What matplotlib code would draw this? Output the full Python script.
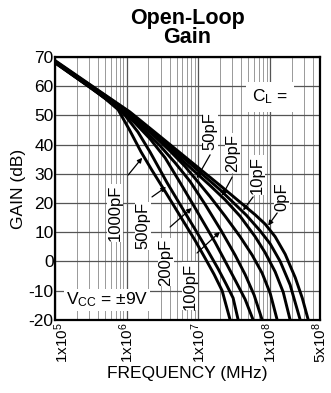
import matplotlib
matplotlib.use("Agg")
import matplotlib.pyplot as plt
from matplotlib.ticker import FixedLocator, NullFormatter
from matplotlib.transforms import ScaledTranslation

plt.rcParams["font.family"] = ["Liberation Sans", "DejaVu Sans"]
plt.rcParams["mathtext.fontset"] = "custom"
plt.rcParams["mathtext.rm"] = "Liberation Sans"
plt.rcParams["mathtext.it"] = "Liberation Sans"

# open-loop gain curves (freq in Hz, gain in dB)
f_0pF = [1e5, 4.25e5, 1.11e6, 2.93e6, 7.68e6, 2.02e7, 3.83e7, 6.21e7, 8.57e7,
         1.18e8, 1.63e8, 2.25e8, 2.82e8, 3.42e8]
g_0pF = [68.8, 58.2, 51.2, 42.8, 34.4, 26, 20.3, 16, 12.8, 8.5, 2.5, -5.5, -12.5, -20]
f_10pF = [1e5, 4.25e5, 1.11e6, 2.93e6, 7.68e6, 2.02e7, 4.66e7, 7.29e7, 1.01e8,
          1.39e8, 1.91e8, 2.64e8]
g_10pF = [68.6, 58.0, 50.9, 42.2, 33.5, 24.5, 15.9, 10.5, 6, 0, -8, -20]
f_20pF = [1e5, 4.25e5, 1.11e6, 2.93e6, 7.68e6, 1.46e7, 2.37e7, 3.83e7, 6.21e7,
          8.57e7, 1.18e8, 1.53e8, 1.91e8]
g_20pF = [68.5, 57.8, 50.6, 41.6, 32.2, 26, 21.1, 15.5, 8.5, 3, -3.5, -10.5, -20]
f_50pF = [1e5, 4.25e5, 1.11e6, 2.12e6, 4.04e6, 6.55e6, 9.93e6, 1.46e7, 2.37e7,
          3.83e7, 5.64e7, 7.78e7, 1.01e8, 1.26e8]
g_50pF = [68.4, 57.6, 50.2, 44.3, 37.8, 32.5, 27.2, 22.2, 15.5, 8.5, 2.2, -4, -11, -20]
f_100pF = [1e5, 4.25e5, 9.51e5, 1.81e6, 2.93e6, 4.74e6, 7.68e6, 1.24e7, 2.08e7,
           3.26e7, 4.51e7, 6.01e7, 7.78e7]
g_100pF = [68.3, 57.4, 51.0, 44.8, 39.6, 33.8, 27.4, 19.6, 10.6, 2.2, -4.5, -11.5, -20]
f_200pF = [1e5, 4.25e5, 8.09e5, 1.31e6, 2.12e6, 3.44e6, 5.57e6, 8.45e6, 1.24e7,
           1.72e7, 2.44e7, 3.37e7, 4.51e7, 5.82e7]
g_200pF = [68.2, 57.2, 52.0, 47.4, 42.0, 35.5, 27, 19.5, 12.5, 6.5, -0.5, -7, -13, -20]
f_500pF = [1e5, 3.62e5, 6.25e5, 9.51e5, 1.44e6, 2.12e6, 3.66e6, 5.57e6, 9.02e6,
           1.37e7, 1.89e7, 2.44e7, 3.06e7, 3.60e7]
g_500pF = [68.1, 58.5, 54.2, 50.0, 44.3, 37.5, 27, 19.5, 11.0, 3.5, -2.5, -7.7, -12.5, -20]
f_1000pF = [1e5, 3.08e5, 5.0e5, 7.59e5, 1.11e6, 1.59e6, 2.26e6, 3.44e6, 5.57e6,
            9.02e6, 1.24e7, 1.66e7, 2.15e7, 2.78e7]
g_1000pF = [68.0, 59.6, 55.8, 52.0, 44.8, 37.5, 31.2, 24, 15.6, 7.2, 1.2, -4.4, -10, -20]

curves = [(f_0pF, g_0pF), (f_10pF, g_10pF), (f_20pF, g_20pF), (f_50pF, g_50pF),
          (f_100pF, g_100pF), (f_200pF, g_200pF), (f_500pF, g_500pF),
          (f_1000pF, g_1000pF)]

x_ticks = [1e5, 1e6, 1e7, 1e8, 5e8]
x_ticklabels = [r"$1\mathregular{x}10^5$", r"$1\mathregular{x}10^6$",
                r"$1\mathregular{x}10^7$", r"$1\mathregular{x}10^8$",
                r"$5\mathregular{x}10^8$"]
y_ticks = [70, 60, 50, 40, 30, 20, 10, 0, -10, -20]

# label text, text position, arrow start, arrow tip
cap_labels = [
    ("1000pF", (6.9e5, 16.6), (1.05e6, 29.6), (1.65e6, 35.5)),
    ("500pF", (1.69e6, 12.2), (2.26e6, 22.1), (3.55e6, 25.5)),
    ("200pF", (3.55e6, -0.2), (4.04e6, 11.8), (8.1e6, 18.3)),
    ("100pF", (7.68e6, -8.4), (9.6e6, 2.9), (2.0e7, 10.1)),
    ("50pF", (1.46e7, 44.7), (1.46e7, 36.5), (9.5e6, 28.5)),
    ("20pF", (3.06e7, 37.1), (2.97e7, 28.9), (2.15e7, 22.5)),
    ("10pF", (6.62e7, 29.6), (5.82e7, 22.1), (4.22e7, 17.5)),
    ("0pF", (1.48e8, 22.1), (1.26e8, 16.6), (9.44e7, 12.3)),
]

fig = plt.figure(figsize=(3.31, 3.93), dpi=100)
ax = fig.add_axes([0.166, 0.186, 0.801, 0.669])

for f, g in curves:
    ax.plot(f, g, color="black", lw=2.1, solid_capstyle="butt",
            solid_joinstyle="round", zorder=3)

ax.set_xscale("log")
ax.set_xlim(1e5, 5e8)
ax.set_ylim(-20, 70)
ax.xaxis.set_major_locator(FixedLocator(x_ticks))
ax.xaxis.set_minor_locator(FixedLocator(
    [m * 10 ** e for e in range(5, 9) for m in range(2, 10) if m * 10 ** e < 5e8]))
ax.xaxis.set_minor_formatter(NullFormatter())
ax.set_xticklabels(x_ticklabels, rotation=90, fontsize=11)
ax.set_yticks(y_ticks)
ax.set_yticklabels([str(v) for v in y_ticks], fontsize=12.5)
ax.tick_params(which="both", length=0)
ax.tick_params(axis="y", pad=1)
ax.tick_params(axis="x", pad=2)
# first frequency label sits a little right of the corner
lbl = ax.get_xticklabels()[0]
lbl.set_transform(lbl.get_transform() + ScaledTranslation(5 / 72, 0, fig.dpi_scale_trans))

ax.grid(which="major", color="#555555", lw=0.9, zorder=1)
ax.grid(which="minor", axis="x", color="#999999", lw=0.7, zorder=1)
for s in ax.spines.values():
    s.set_linewidth(1.6)

ax.set_xlabel("FREQUENCY (MHz)", fontsize=12.5, labelpad=2)
ax.set_ylabel("GAIN (dB)", fontsize=12.5, labelpad=2)
ax.set_title("Open-Loop\nGain", fontsize=15.5, fontweight="bold",
             linespacing=0.85, pad=10)

for text, pos, start, tip in cap_labels:
    ax.text(pos[0], pos[1], text, rotation=90, ha="center", va="center",
            fontsize=12, zorder=5,
            bbox=dict(facecolor="white", edgecolor="none", pad=0.5))
    ax.annotate("", xy=tip, xytext=start, zorder=5,
                arrowprops=dict(arrowstyle="-|>", color="black", lw=0.9,
                                mutation_scale=7, shrinkA=0, shrinkB=0))

ax.text(1.0e8, 56.3, r"C$_\mathregular{L}$ =", ha="center", va="center",
        fontsize=12.5, zorder=5,
        bbox=dict(facecolor="white", edgecolor="none", pad=4))
ax.text(5.3e5, -13.2, r"V$_\mathregular{CC}$ = ±9V", ha="center", va="center",
        fontsize=12.5, zorder=5,
        bbox=dict(facecolor="white", edgecolor="none", pad=1.5))

fig.savefig("out.png", dpi=100)
